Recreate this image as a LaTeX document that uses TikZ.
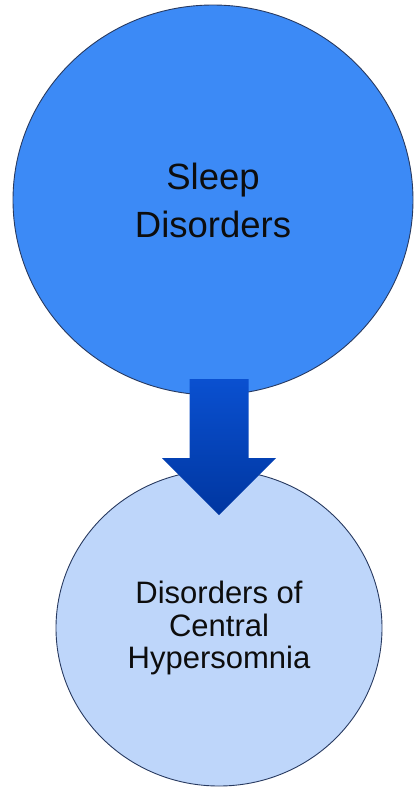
\documentclass[tikz,border=0pt]{standalone}
\usepackage{fontspec}
\setmainfont{Liberation Sans}
\usetikzlibrary{shapes.geometric}
\definecolor{sleepcol}{RGB}{60,138,246}
\definecolor{centralcol}{RGB}{190,214,250}
\definecolor{rimcol}{RGB}{40,58,96}
\definecolor{arrowtop}{RGB}{10,80,208}
\definecolor{arrowbot}{RGB}{0,54,160}
\tikzset{
  bubble/.style={draw=rimcol,ellipse,line width=0.9pt,inner sep=0pt,align=center,text=black!95},
  bigtxt/.style={font=\fontsize{36.5}{48}\selectfont},
  smalltxt/.style={font=\fontsize{31}{32.5}\selectfont},
}
\begin{document}
\begin{tikzpicture}[x=1pt,y=-1pt]
  \useasboundingbox (0,0) rectangle (415,793);
  \node[bubble,bigtxt,fill=sleepcol,minimum width=400pt,minimum height=390pt] (sleep) at (213,200) {Sleep\\Disorders};
  \node[bubble,smalltxt,fill=centralcol,minimum width=326pt,minimum height=316pt] (central) at (219,628) {Disorders of\\Central\\Hypersomnia};
  \shade[top color=arrowtop,bottom color=arrowbot] (189.5,379) -- (248.5,379) -- (248.5,458) -- (276,458) -- (219,515) -- (162,458) -- (189.5,458) -- cycle;
\end{tikzpicture}
\end{document}
